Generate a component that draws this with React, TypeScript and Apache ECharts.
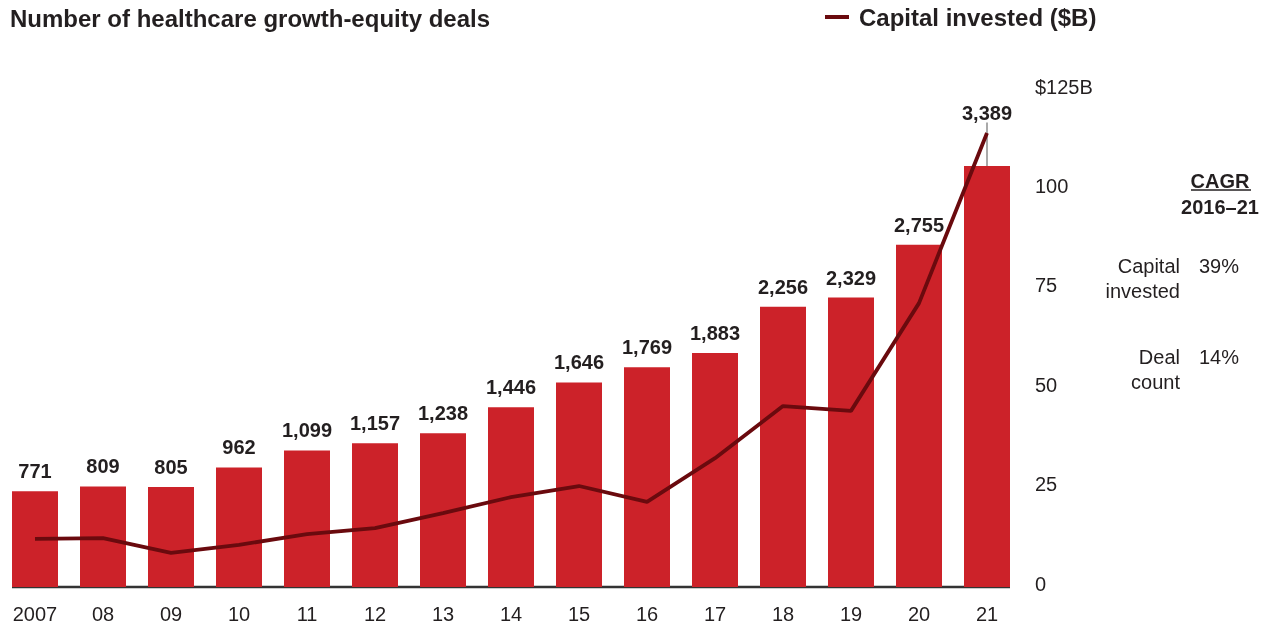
import React, { useEffect, useRef } from "react";
import * as echarts from "echarts";

const years = ["2007", "08", "09", "10", "11", "12", "13", "14", "15", "16", "17", "18", "19", "20", "21"];
const dealCounts = [771, 809, 805, 962, 1099, 1157, 1238, 1446, 1646, 1769, 1883, 2256, 2329, 2755, 3389];
const capitalInvested = [12.1, 12.3, 8.6, 10.6, 13.3, 14.8, 18.6, 22.6, 25.4, 21.4, 32.4, 45.5, 44.3, 71.4, 114.2];
const capitalAxis = { min: 0, max: 125, interval: 25 };
const dealAxisMax = 4000;
const cagrRows = [
  { label: ["Capital", "invested"], value: "39%" },
  { label: ["Deal", "count"], value: "14%" },
];

const FONT = "'Liberation Sans', Arial, Helvetica, sans-serif";
const TEXT = "#231f20";
const BAR = "#cc2229";
const LINE = "#6a0a0e";

export default function App() {
  const ref = useRef<HTMLDivElement>(null);
  useEffect(() => {
    if (!ref.current) return;
    const chart = echarts.init(ref.current, null, { renderer: "svg" });
    const last = dealCounts.length - 1;
    const barData = dealCounts.map((v, i) =>
      i === last ? { value: v, label: { offset: [0, -33] } } : v
    );
    const cagrGraphics: any[] = [
      { type: "text", x: 1220, y: 181, style: { text: "CAGR", font: `bold 20px ${FONT}`, fill: TEXT, align: "center", verticalAlign: "middle" } },
      { type: "line", shape: { x1: 1191, y1: 190, x2: 1251, y2: 190 }, style: { stroke: TEXT, lineWidth: 1.6 } },
      { type: "text", x: 1220, y: 207, style: { text: "2016–21", font: `bold 20px ${FONT}`, fill: TEXT, align: "center", verticalAlign: "middle" } },
    ];
    cagrRows.forEach((r, i) => {
      const y0 = 266 + i * 91;
      r.label.forEach((t, j) => {
        cagrGraphics.push({ type: "text", x: 1180, y: y0 + j * 25, style: { text: t, font: `20px ${FONT}`, fill: TEXT, align: "right", verticalAlign: "middle" } });
      });
      cagrGraphics.push({ type: "text", x: 1199, y: y0, style: { text: r.value, font: `20px ${FONT}`, fill: TEXT, align: "left", verticalAlign: "middle" } });
    });

    chart.setOption({
      animation: false,
      textStyle: { fontFamily: FONT },
      title: {
        text: "Number of healthcare growth-equity deals",
        left: 10,
        top: 6,
        padding: 0,
        textStyle: { fontSize: 24, fontWeight: "bold", color: TEXT, fontFamily: FONT },
      },
      legend: {
        data: ["Capital invested ($B)"],
        left: 825,
        top: 5,
        padding: 0,
        icon: "rect",
        itemWidth: 24,
        itemHeight: 4,
        selectedMode: false,
        textStyle: { fontSize: 24, fontWeight: "bold", color: TEXT, fontFamily: FONT, padding: [0, 0, 0, 5] },
      },
      grid: { left: 1, right: 249, top: 90, bottom: 39 },
      xAxis: {
        type: "category",
        data: years,
        axisLine: { show: false },
        axisTick: { show: false },
        axisLabel: { fontSize: 20, color: TEXT, margin: 17, fontFamily: FONT },
      },
      yAxis: [
        { type: "value", min: 0, max: dealAxisMax, show: false, splitLine: { show: false } },
        {
          type: "value",
          position: "right",
          min: capitalAxis.min,
          max: capitalAxis.max,
          interval: capitalAxis.interval,
          axisLine: { show: false },
          axisTick: { show: false },
          splitLine: { show: false },
          axisLabel: {
            fontSize: 20,
            color: TEXT,
            margin: 14,
            fontFamily: FONT,
            verticalAlign: "bottom",
            lineHeight: 7,
            formatter: (v: number) => (v === capitalAxis.max ? `$${v}B` : `${v}`),
          },
        },
      ],
      series: [
        {
          name: "Deal count",
          type: "bar",
          data: barData,
          barWidth: 46,
          yAxisIndex: 0,
          itemStyle: { color: BAR },
          label: {
            show: true,
            position: "top",
            distance: 10,
            fontSize: 20,
            fontWeight: "bold",
            color: TEXT,
            fontFamily: FONT,
            formatter: (p: any) => Number(p.value).toLocaleString("en-US"),
          },
          markLine: {
            silent: true,
            symbol: "none",
            z: 1,
            label: { show: false },
            lineStyle: { color: "#8c8c8c", width: 1.5, type: "solid" },
            data: [[{ coord: [last, dealCounts[last]] }, { coord: [last, dealCounts[last] + 350] }]],
          },
        },
        {
          name: "Capital invested ($B)",
          type: "line",
          data: capitalInvested,
          yAxisIndex: 1,
          symbol: "none",
          z: 5,
          lineStyle: { color: LINE, width: 3.8 },
          itemStyle: { color: LINE },
        },
      ],
      graphic: [
        { type: "line", shape: { x1: 12, y1: 587, x2: 1010, y2: 587 }, style: { stroke: "#333333", lineWidth: 2.5 } },
        ...cagrGraphics,
      ],
    });
    return () => chart.dispose();
  }, []);
  return <div ref={ref} style={{ position: "fixed", left: 0, top: 0, width: 1270, height: 626 }} />;
}
